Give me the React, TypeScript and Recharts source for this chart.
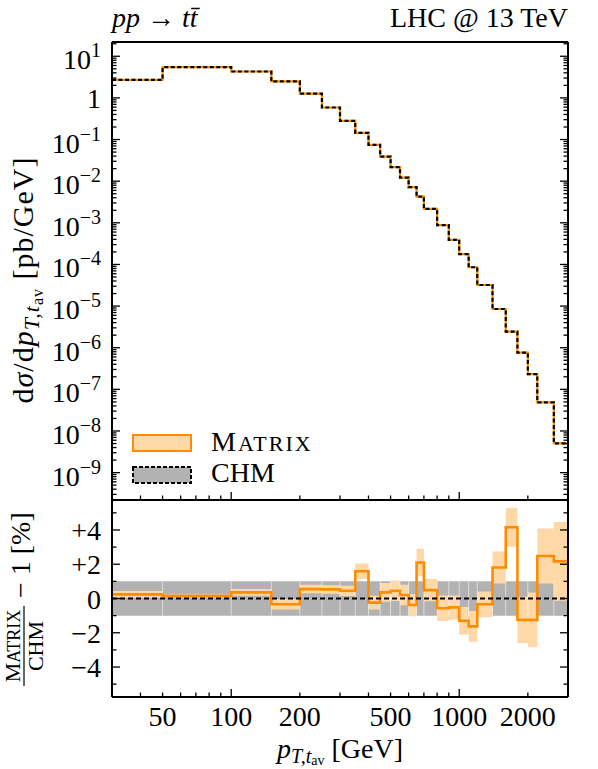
import React from 'react';
import { ComposedChart, Line, Area, XAxis, YAxis, ReferenceLine } from 'recharts';

const FONT = '"Liberation Serif", "Times New Roman", Times, serif';
const W = 598;
const H = 769;
const LEFT = 112;
const RIGHT = 568;
const TOP = 42;
const MID = 500;
const BOTTOM = 697;

const ORANGE = '#ff8c00';
const PEACH = '#ffd8a8';
const GREY = '#b2b2b2';

// bin edges of p_T,t_av [GeV]
const binEdges = [30, 50, 100, 150, 200, 250, 300, 350, 400, 450, 500, 550, 600, 650, 700, 800, 900, 1000, 1100, 1200, 1400, 1600, 1800, 2000, 2200, 2600, 3000];

// dsigma/dpT [pb/GeV], one value per bin
const matrixXs = [2.72, 5.5, 4.31, 2.48, 1.26, 0.588, 0.282, 0.145, 0.0746, 0.039, 0.0217, 0.0122, 0.00718, 0.00427, 0.00216, 8.75e-4, 3.88e-4, 1.76e-4, 8.57e-5, 3.21e-5, 8.5e-6, 2.43e-6, 7.59e-7, 2.33e-7, 4.86e-8, 5.04e-9];

// MATRIX/CHM - 1 [%], central value and half width of the band
const ratioCentral = [0.24, 0.14, 0.36, -0.34, 0.55, 0.53, 0.45, 1.59, -0.24, 0.36, 0.45, 0.2, -0.38, 2.1, 0.49, -0.57, -0.52, -1.3, -1.63, -0.34, 1.81, 4.16, -1.25, -1.25, 2.48, 2.17];
const ratioErr = [0.2, 0.1, 0.2, 0.3, 0.25, 0.25, 0.3, 0.45, 0.4, 0.55, 0.6, 0.6, 0.65, 0.8, 0.65, 0.75, 0.7, 0.8, 0.9, 0.75, 0.93, 1.13, 1.35, 1.6, 1.6, 2.3];
const chmErr = [1, 1, 1, 1, 1, 1, 1, 1, 1, 1, 1, 1, 1, 1, 1, 1, 1, 1, 1, 1, 1, 1, 1, 1, 1, 1];

// ticks
const xTicks = [40, 50, 60, 70, 80, 90, 100, 200, 300, 400, 500, 600, 700, 800, 900, 1000, 2000];
const xTickLabels = [50, 100, 200, 500, 1000, 2000];
const yDecades = [10, 1, 0.1, 0.01, 1e-3, 1e-4, 1e-5, 1e-6, 1e-7, 1e-8, 1e-9];
const ratioTicks = [-5, -4, -3, -2, -1, 0, 1, 2, 3, 4, 5];
const ratioLabelValues = [4, 2, 0, -2, -4];
const ratioLabels = ['+4', '+2', '0', '\u22122', '\u22124'];

const Y_DOMAIN: [number, number] = [2.2e-10, 22];
const R_DOMAIN: [number, number] = [-5.75, 5.75];

const yTicksTop: number[] = [];
for (let k = -10; k <= 1; k++) {
  for (let m = 1; m <= 9; m++) {
    const v = m * Math.pow(10, k);
    if (v >= Y_DOMAIN[0] && v <= Y_DOMAIN[1]) yTicksTop.push(v);
  }
}

const last = (arr: number[], i: number) => arr[Math.min(i, arr.length - 1)];

const topRows = binEdges.map((x, i) => ({ x, v: last(matrixXs, i) }));
const ratioRows = binEdges.map((x, i) => {
  const c = last(ratioCentral, i);
  const e = last(ratioErr, i);
  const g = last(chmErr, i);
  return { x, c, band: [c - e, c + e], grey: [-g, g] };
});

const isDecade = (v: number) => {
  const l = Math.log10(v);
  return Math.abs(l - Math.round(l)) < 1e-6;
};

const tickStroke = { stroke: '#000', strokeWidth: 1.3 };
const axisLine = { stroke: '#000', strokeWidth: 2 };

const bottomTick = (lineY: number, withLabels: boolean) => (p: any) => {
  const v = p.payload.value;
  const len = isDecade(v) ? 8 : 4.5;
  return (
    <g>
      <line x1={p.x} x2={p.x} y1={lineY} y2={lineY - len} {...tickStroke} />
      {withLabels && xTickLabels.includes(v) && (
        <text x={p.x} y={lineY + 29} textAnchor="middle" fontFamily={FONT} fontSize={28} fill="#000">
          {v}
        </text>
      )}
    </g>
  );
};

const noTick = () => <g />;

const topLeftTick = (p: any) => {
  const v = p.payload.value;
  const major = isDecade(v);
  const k = Math.round(Math.log10(v));
  let label = null;
  if (major && yDecades.some((d) => Math.abs(Math.log10(d) - k) < 1e-6)) {
    label =
      k === 0 ? (
        <text x={101} y={p.y + 10} textAnchor="end" fontFamily={FONT} fontSize={28} fill="#000">1</text>
      ) : (
        <text x={101} y={p.y + 13} textAnchor="end" fontFamily={FONT} fontSize={28} fill="#000">
          10<tspan dy={-12} fontSize={20}>{k < 0 ? '\u2212' + -k : String(k)}</tspan>
        </text>
      );
  }
  return (
    <g>
      <line x1={LEFT} x2={LEFT + (major ? 8 : 4.5)} y1={p.y} y2={p.y} {...tickStroke} />
      {label}
    </g>
  );
};

const topRightTick = (p: any) => {
  const major = isDecade(p.payload.value);
  return <line x1={RIGHT} x2={RIGHT - (major ? 8 : 4.5)} y1={p.y} y2={p.y} {...tickStroke} />;
};

const ratioLeftTick = (p: any) => {
  const v = p.payload.value;
  const idx = ratioLabelValues.indexOf(v);
  return (
    <g>
      <line x1={LEFT} x2={LEFT + (idx >= 0 ? 8 : 4.5)} y1={p.y} y2={p.y} {...tickStroke} />
      {idx >= 0 && (
        <text x={101} y={p.y + 10} textAnchor="end" fontFamily={FONT} fontSize={28} fill="#000">
          {ratioLabels[idx]}
        </text>
      )}
    </g>
  );
};

const ratioRightTick = (p: any) => {
  const major = ratioLabelValues.includes(p.payload.value);
  return <line x1={RIGHT} x2={RIGHT - (major ? 8 : 4.5)} y1={p.y} y2={p.y} {...tickStroke} />;
};

// axes need a non-zero size to be drawn, so each takes 1px out of the margin
const TopPanel = () => (
  <ComposedChart
    width={W}
    height={H}
    data={topRows}
    margin={{ top: TOP - 1, right: W - RIGHT - 1, bottom: H - MID - 1, left: LEFT - 1 }}
  >
    <XAxis xAxisId="b" dataKey="x" type="number" scale="log" domain={[30, 3000]} allowDataOverflow
      ticks={xTicks} interval={0} height={1} tickLine={false} axisLine={axisLine} tick={bottomTick(MID, false)} />
    <XAxis xAxisId="t" orientation="top" dataKey="x" type="number" scale="log" domain={[30, 3000]} allowDataOverflow
      ticks={xTicks} interval={0} height={1} tickLine={false} tick={noTick} axisLine={axisLine} />
    <YAxis yAxisId="l" type="number" scale="log" domain={Y_DOMAIN} allowDataOverflow
      ticks={yTicksTop} interval={0} width={1} tickLine={false} axisLine={axisLine} tick={topLeftTick} />
    <YAxis yAxisId="r" orientation="right" type="number" scale="log" domain={Y_DOMAIN} allowDataOverflow
      ticks={yTicksTop} interval={0} width={1} tickLine={false} axisLine={axisLine} tick={topRightTick} />
    <Line xAxisId="b" yAxisId="l" dataKey="v" type="stepAfter" stroke={ORANGE} strokeWidth={2.2}
      dot={false} isAnimationActive={false} />
    <Line xAxisId="t" yAxisId="r" dataKey="v" type="stepAfter" stroke="#000" strokeWidth={2.2}
      strokeDasharray="4 2.5" dot={false} isAnimationActive={false} />
  </ComposedChart>
);

const RatioPanel = () => (
  <ComposedChart
    width={W}
    height={H}
    data={ratioRows}
    margin={{ top: MID - 1, right: W - RIGHT - 1, bottom: H - BOTTOM - 1, left: LEFT - 1 }}
  >
    <XAxis xAxisId="b" dataKey="x" type="number" scale="log" domain={[30, 3000]} allowDataOverflow
      ticks={xTicks} interval={0} height={1} tickLine={false} axisLine={axisLine} tick={bottomTick(BOTTOM, true)} />
    <XAxis xAxisId="t" orientation="top" dataKey="x" type="number" scale="log" domain={[30, 3000]} allowDataOverflow
      ticks={xTicks} interval={0} height={1} tickLine={false} tick={noTick} axisLine={axisLine} />
    <YAxis yAxisId="l" type="number" domain={R_DOMAIN} allowDataOverflow
      ticks={ratioTicks} interval={0} width={1} tickLine={false} axisLine={axisLine} tick={ratioLeftTick} />
    <YAxis yAxisId="r" orientation="right" type="number" domain={R_DOMAIN} allowDataOverflow
      ticks={ratioTicks} interval={0} width={1} tickLine={false} axisLine={axisLine} tick={ratioRightTick} />
    <Area xAxisId="b" yAxisId="l" dataKey="grey" type="stepAfter" stroke="none" fill={GREY} fillOpacity={1}
      isAnimationActive={false} />
    {binEdges.slice(1, -1).map((e) => (
      <ReferenceLine key={e} xAxisId="b" yAxisId="l" segment={[{ x: e, y: -1 }, { x: e, y: 1 }]}
        stroke="#ffffff" strokeOpacity={0.55} strokeWidth={1} />
    ))}
    <Area xAxisId="b" yAxisId="l" dataKey="band" type="stepAfter" stroke="none" fill={PEACH} fillOpacity={1}
      isAnimationActive={false} />
    <Line xAxisId="t" yAxisId="r" dataKey="c" type="stepAfter" stroke={ORANGE} strokeWidth={2.6}
      dot={false} isAnimationActive={false} />
    <ReferenceLine xAxisId="b" yAxisId="l" y={0} stroke="#000" strokeWidth={2} strokeDasharray="5 3" />
  </ComposedChart>
);

const Texts = () => (
  <svg width={W} height={H} style={{ position: 'absolute', left: 0, top: 0, pointerEvents: 'none' }}>
    <g fontFamily={FONT} fill="#000">
      <text x={LEFT} y={27} fontSize={28}>
        <tspan fontStyle="italic">pp</tspan> {'\u2192'} <tspan fontStyle="italic">t{'t\u0304'}</tspan>
      </text>
      <text x={RIGHT} y={27} fontSize={28} textAnchor="end">LHC @ 13 TeV</text>

      <text transform="translate(33,280) rotate(-90)" textAnchor="middle" fontSize={30} letterSpacing={1}>
        d<tspan fontStyle="italic">{'\u03c3'}</tspan>/d<tspan fontStyle="italic">p</tspan>
        <tspan fontSize={22} fontStyle="italic" dy={6}>T,t</tspan>
        <tspan fontSize={16} dy={4}>av</tspan>
        <tspan dy={-10}>{' [pb/GeV]'}</tspan>
      </text>

      <g transform="translate(24,600) rotate(-90)">
        <text x={-46} y={-4} textAnchor="middle" fontSize={22}>
          M<tspan fontSize={18}>ATRIX</tspan>
        </text>
        <line x1={-86} x2={-6} y1={0} y2={0} stroke="#000" strokeWidth={1.2} />
        <text x={-46} y={19} textAnchor="middle" fontSize={22}>CHM</text>
        <text x={2} y={6} fontSize={28}>{'\u2212 1 [%]'}</text>
      </g>

      <text x={340} y={758} textAnchor="middle" fontSize={28}>
        <tspan fontStyle="italic">p</tspan>
        <tspan fontSize={20} fontStyle="italic" dy={5}>T,t</tspan>
        <tspan fontSize={14} dy={2}>av</tspan>
        <tspan dy={-7}>{' [GeV]'}</tspan>
      </text>

      <rect x={133} y={435} width={58} height={16} fill={PEACH} stroke={ORANGE} strokeWidth={2} />
      <text x={211} y={451} fontSize={28} letterSpacing={2}>
        M<tspan fontSize={22}>ATRIX</tspan>
      </text>
      <rect x={133} y={467} width={58} height={16} fill={GREY} stroke="#000" strokeWidth={2} strokeDasharray="4 2" />
      <text x={211} y={482} fontSize={28}>CHM</text>
    </g>
  </svg>
);

export default function App() {
  return (
    <div style={{ position: 'absolute', left: 0, top: 0, width: W, height: H, background: '#fff' }}>
      <div style={{ position: 'absolute', left: 0, top: 0 }}>
        <RatioPanel />
      </div>
      <div style={{ position: 'absolute', left: 0, top: 0 }}>
        <TopPanel />
      </div>
      <Texts />
    </div>
  );
}
